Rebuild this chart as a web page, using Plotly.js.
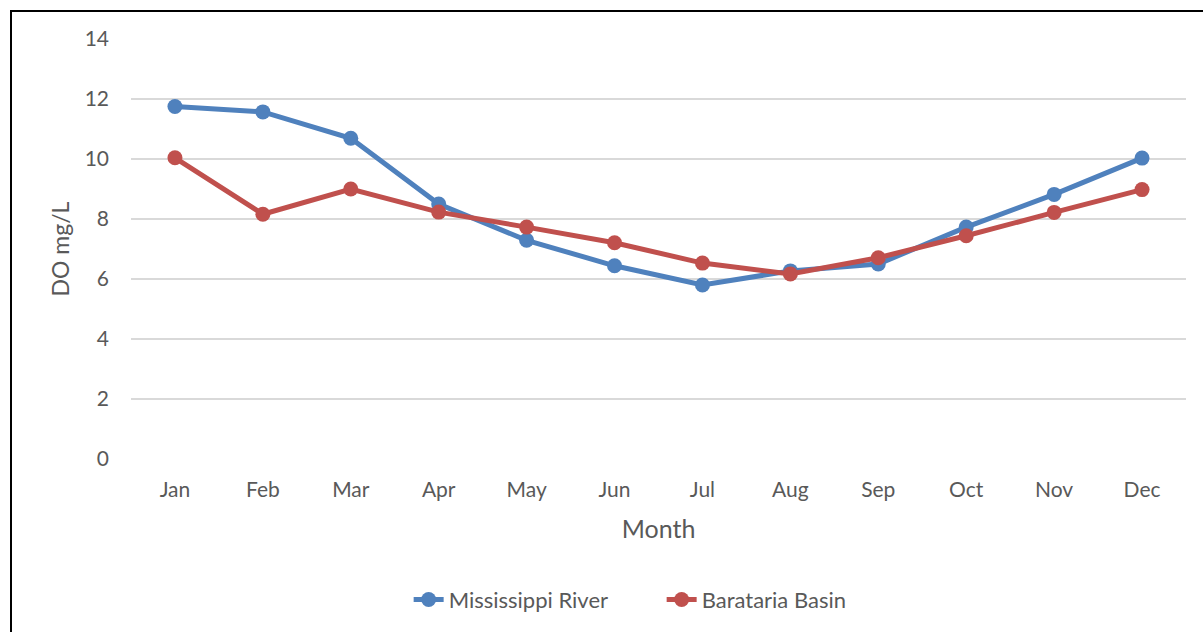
<!DOCTYPE html>
<html>
<head>
<meta charset="utf-8">
<script src="https://cdn.plot.ly/plotly-3.0.1.min.js"></script>
<style>
  html, body { margin: 0; padding: 0; background: #ffffff; }
  #wrap { position: relative; width: 1203px; height: 632px; overflow: hidden; }
  #frame { position: absolute; left: 10px; top: 10px; width: 1300px; height: 700px;
           border-left: 2px solid #000; border-top: 2px solid #000; box-sizing: border-box; pointer-events: none; z-index: 5; }
  #chart { position: absolute; left: 0; top: 0; width: 1203px; height: 632px; }
</style>
</head>
<body>
<div id="wrap">
  <div id="chart"></div>
  <div id="frame"></div>
</div>
<script>
// Monthly mean dissolved oxygen (mg/L)
const months = ['Jan', 'Feb', 'Mar', 'Apr', 'May', 'Jun', 'Jul', 'Aug', 'Sep', 'Oct', 'Nov', 'Dec'];
const mississippiRiver = [11.75, 11.57, 10.69, 8.5, 7.29, 6.44, 5.8, 6.27, 6.5, 7.73, 8.82, 10.03];
const baratariaBasin = [10.04, 8.16, 9.0, 8.23, 7.73, 7.21, 6.53, 6.17, 6.71, 7.44, 8.22, 8.98];
const yTicks = [0, 2, 4, 6, 8, 10, 12, 14];

const FONT = 'Lato, "Open Sans", sans-serif';
const GREY = '#595959';

const traces = [
  {
    x: months, y: mississippiRiver, name: 'Mississippi River', type: 'scatter', mode: 'lines+markers',
    line: { color: '#4F81BD', width: 5 },
    marker: { color: '#4F81BD', size: 15 }
  },
  {
    x: months, y: baratariaBasin, name: 'Barataria Basin', type: 'scatter', mode: 'lines+markers',
    line: { color: '#C0504D', width: 5 },
    marker: { color: '#C0504D', size: 15 }
  }
];

const layout = {
  width: 1203, height: 632,
  margin: { l: 131, r: 17, t: 39, b: 173 },
  paper_bgcolor: '#ffffff', plot_bgcolor: '#ffffff',
  font: { family: FONT, color: GREY, size: 21 },
  showlegend: true,
  legend: {
    orientation: 'h', xref: 'container', yref: 'container',
    x: 0.55, xanchor: 'center', y: 0.051, yanchor: 'middle',
    entrywidth: 208, entrywidthmode: 'pixels',
    font: { family: FONT, size: 22, color: GREY }
  },
  xaxis: {
    type: 'category', range: [-0.5, 11.5],
    showgrid: false, zeroline: false, showline: false, ticks: '',
    ticklabelstandoff: 16,
    tickfont: { family: FONT, size: 21, color: GREY },
    title: { text: 'Month', font: { family: FONT, size: 25, color: GREY }, standoff: 20 }
  },
  yaxis: {
    range: [0, 14], tickvals: yTicks, ticktext: yTicks.map(String),
    showgrid: true, gridcolor: '#d9d9d9', gridwidth: 1.5,
    zeroline: false, showline: false, ticks: '',
    ticklabelstandoff: 21,
    tickfont: { family: FONT, size: 21, color: GREY },
    title: { text: 'DO mg/L', font: { family: FONT, size: 23, color: GREY }, standoff: 8 }
  }
};

Plotly.newPlot('chart', traces, layout, { displayModeBar: false, staticPlot: true });
</script>
</body>
</html>
